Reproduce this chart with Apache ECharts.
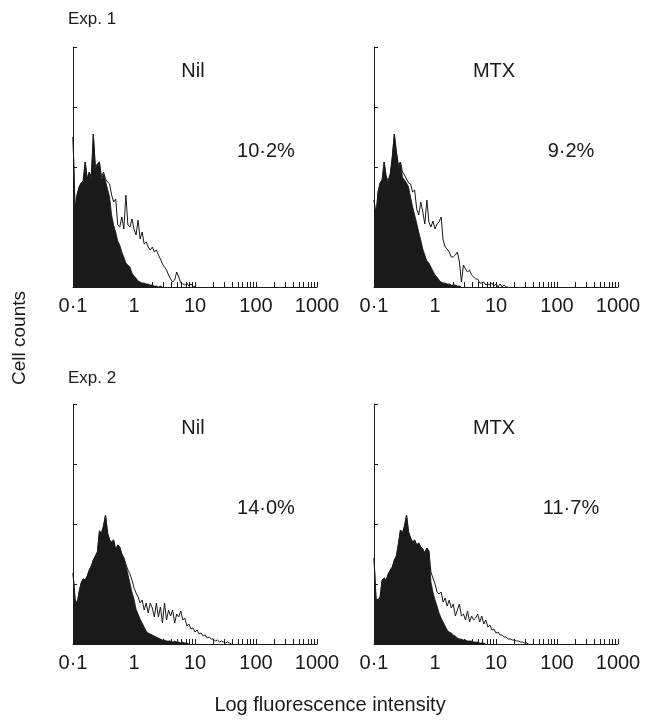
<!DOCTYPE html>
<html><head><meta charset="utf-8">
<script src="https://cdn.jsdelivr.net/npm/echarts@6/dist/echarts.min.js"></script>
<style>html,body{margin:0;padding:0;background:#fff}#c{width:656px;height:726px}</style>
</head><body><div id="c"></div>
<script>
// ---- data ----
const xTickLabels = ['0·1', '1', '10', '100', '1000'];
const minorTickValues = [0.2,0.3,0.4,0.5,0.6,0.7,0.8,0.9, 2,3,4,5,6,7,8,9, 20,30,40,50,60,70,80,90, 200,300,400,500,600,700,800,900];
const binsPerDecade = 30;   // histogram channels per decade, first channel at 0.1
const panelTitles = ['Nil', 'MTX', 'Nil', 'MTX'];
const panelPercents = ['10·2%', '9·2%', '14·0%', '11·7%'];
const experimentLabels = ['Exp. 1', 'Exp. 2'];

const exp1NilFilled = [150,78,92,100,104,105,125,108,115,108,153,118,123,125,107,113,106,98,90,72,62,55,46,42,35,30,24,22,20,14,11,9,6,5,4,4,3,3,2,2,1,1,0,1,0];
const exp1NilOpen   = [150,78,92,100,104,106,125,108,115,110,153,120,123,125,110,115,108,105,103,92,85,88,62,60,70,58,92,62,60,68,58,52,67,48,55,43,45,40,37,40,35,37,32,28,23,20,17,12,8,5,7,15,10,4,3,2,4,1,3,1,0];
const exp1MtxFilled = [87,72,95,104,107,125,110,105,113,130,153,135,120,125,110,107,104,100,90,80,72,64,55,47,38,32,26,24,20,16,12,10,7,5,4,4,3,3,2,2,2,1,1,0];
const exp1MtxOpen   = [87,72,95,104,107,125,110,107,113,130,153,135,122,125,115,112,108,104,103,95,97,78,72,85,75,63,87,65,60,66,58,63,65,70,47,40,38,35,30,30,32,35,25,5,22,18,15,17,12,10,8,8,4,4,5,2,3,2,4,1,3,0,3,0,2,0,0];
const exp2NilFilled = [71,45,40,52,61,65,64,68,74,78,84,88,92,113,111,118,129,111,104,102,104,94,99,97,90,86,78,70,61,52,45,35,30,25,21,17,13,11,10,9,8,7,6,5,4,4,3,3,3,2,3,2,2,1,2,1,1,0];
const exp2NilOpen   = [71,45,40,52,61,65,64,68,74,78,84,88,92,113,111,118,129,111,104,102,104,94,99,97,90,86,80,74,70,64,56,51,47,41,44,34,41,31,41,36,27,41,27,37,21,41,24,34,28,34,21,30,27,33,24,26,18,20,15,16,12,14,10,11,8,9,6,7,5,5,3,4,2,3,2,1,2,1,0];
const exp2MtxFilled = [86,45,44,47,64,66,64,70,74,77,84,88,100,114,111,118,129,112,106,102,104,99,101,97,95,91,96,93,62,52,44,38,31,26,22,18,14,12,11,9,8,6,5,5,4,4,3,3,3,2,2,2,1,1,1,0];
const exp2MtxOpen   = [86,45,44,47,64,66,64,70,74,77,84,88,100,114,111,118,129,112,106,102,104,99,101,97,95,91,96,93,72,66,60,52,50,52,42,46,38,44,36,40,28,34,40,28,30,24,33,22,28,24,26,30,22,28,20,24,17,19,14,15,11,12,9,9,7,7,5,5,4,4,3,3,2,2,1,1,0];

const panelFilled = [exp1NilFilled, exp1MtxFilled, exp2NilFilled, exp2MtxFilled];
const panelOpen = [exp1NilOpen, exp1MtxOpen, exp2NilOpen, exp2MtxOpen];

// ---- layout ----
const gridPos = [[73, 47], [374, 47], [73, 404], [374, 404]];
const GW = 244, GH = 240;
const INK = '#1a1a1a';
const FONT = '"Liberation Sans", Arial, sans-serif';

function toPoints(arr) {
  return arr.map((v, k) => [0.1 * Math.pow(10, k / binsPerDecade), v]);
}

const grids = [], xAxes = [], yAxes = [], series = [], graphics = [];
gridPos.forEach((p, i) => {
  grids.push({ left: p[0], top: p[1], width: GW, height: GH });
  xAxes.push({
    gridIndex: i, type: 'log', logBase: 10, min: 0.1, max: 1000,
    axisLine: { show: true, lineStyle: { color: INK, width: 1 } },
    axisTick: { show: true, inside: true, length: 5, lineStyle: { color: INK, width: 1 } },
    axisLabel: {
      show: true, margin: 9, fontSize: 20, color: INK, fontFamily: FONT,
      showMinLabel: true, showMaxLabel: true,
      formatter: v => xTickLabels[Math.round(Math.log10(v)) + 1] || ''
    },
    splitLine: { show: false }, minorTick: { show: false }
  });
  yAxes.push({
    gridIndex: i, type: 'value', min: 0, max: 240, interval: 60,
    axisLine: { show: true, lineStyle: { color: INK, width: 1 } },
    axisTick: { show: true, inside: true, length: 4, lineStyle: { color: INK, width: 1 } },
    axisLabel: { show: false }, splitLine: { show: false }
  });
  series.push({
    type: 'custom', xAxisIndex: i, yAxisIndex: i, silent: true, z: 1,
    data: minorTickValues.map(v => [v, 0]),
    renderItem: (params, api) => {
      const c = api.coord([api.value(0), 0]);
      const x = Math.round(c[0]) + 0.5;
      return { type: 'line', shape: { x1: x, y1: c[1], x2: x, y2: c[1] - 5 },
               style: { stroke: INK, lineWidth: 1 } };
    }
  });
  series.push({
    type: 'line', xAxisIndex: i, yAxisIndex: i, showSymbol: false, symbol: 'none',
    silent: true, z: 2, data: toPoints(panelOpen[i]),
    lineStyle: { color: INK, width: 1 }
  });
  series.push({
    type: 'line', xAxisIndex: i, yAxisIndex: i, showSymbol: false, symbol: 'none',
    silent: true, z: 3, data: toPoints(panelFilled[i]),
    lineStyle: { color: INK, width: 0.8 }, areaStyle: { color: INK, opacity: 1 }
  });
  graphics.push({ type: 'text', x: p[0] + 120, y: p[1] + 24,
    style: { text: panelTitles[i], font: '20px ' + FONT, fill: INK, align: 'center', verticalAlign: 'middle' } });
  graphics.push({ type: 'text', x: p[0] + (i % 2 === 0 ? 193 : 197), y: p[1] + 104,
    style: { text: panelPercents[i], font: '20px ' + FONT, fill: INK, align: 'center', verticalAlign: 'middle' } });
});

graphics.push({ type: 'text', x: 68, y: 19,
  style: { text: experimentLabels[0], font: '17px ' + FONT, fill: INK, align: 'left', verticalAlign: 'middle' } });
graphics.push({ type: 'text', x: 68, y: 378,
  style: { text: experimentLabels[1], font: '17px ' + FONT, fill: INK, align: 'left', verticalAlign: 'middle' } });
graphics.push({ type: 'text', x: 20, y: 338, rotation: Math.PI / 2,
  style: { text: 'Cell counts', font: '19px ' + FONT, fill: INK, align: 'center', verticalAlign: 'middle' } });
graphics.push({ type: 'text', x: 330, y: 705,
  style: { text: 'Log fluorescence intensity', font: '20px ' + FONT, fill: INK, align: 'center', verticalAlign: 'middle' } });

const chart = echarts.init(document.getElementById('c'), null, { renderer: 'canvas' });
chart.setOption({
  animation: false, backgroundColor: '#fff',
  grid: grids, xAxis: xAxes, yAxis: yAxes, series: series, graphic: graphics
});
</script></body></html>
